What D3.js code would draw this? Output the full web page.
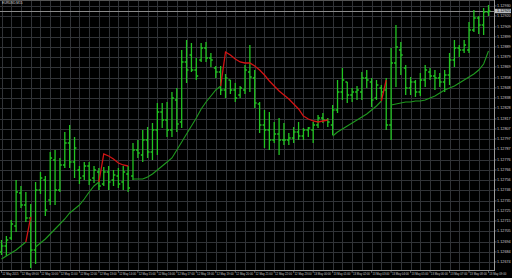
<!DOCTYPE html>
<html><head><meta charset="utf-8">
<script src="https://cdn.jsdelivr.net/npm/d3@7"></script>
<style>html,body{margin:0;padding:0;background:#000;overflow:hidden}</style>
</head><body>
<svg id="c" width="512" height="278"></svg>
<script>
const symbolTitle = "EURUSD,M15";
const openP = [1.12684,1.12690,1.12698,1.12710,1.12743,1.12731,1.12718,1.12686,1.12746,1.12756,
1.12736,1.12776,1.12746,1.12771,1.12793,1.12774,1.12766,1.12760,1.12770,1.12758,
1.12764,1.12752,1.12764,1.12756,1.12760,1.12754,1.12762,1.12760,1.12786,1.12781,
1.12796,1.12784,1.12806,1.12824,1.12816,1.12806,1.12836,1.12814,1.12874,1.12881,
1.12866,1.12876,1.12888,1.12878,1.12868,1.12864,1.12846,1.12856,1.12846,1.12841,
1.12846,1.12864,1.12858,1.12832,1.12811,1.12806,1.12796,1.12802,1.12796,1.12796,
1.12798,1.12804,1.12800,1.12806,1.12806,1.12811,1.12818,1.12816,1.12811,1.12826,
1.12844,1.12854,1.12841,1.12844,1.12844,1.12858,1.12854,1.12838,1.12848,1.12846,
1.12811,1.12873,1.12886,1.12868,1.12848,1.12854,1.12844,1.12856,1.12864,1.12860,
1.12858,1.12854,1.12861,1.12876,1.12888,1.12886,1.12886,1.12906,1.12918,1.12911,
1.12924];
const highP = [1.12696,1.12700,1.12716,1.12756,1.12750,1.12744,1.12732,1.12754,1.12764,1.12760,
1.12784,1.12786,1.12778,1.12804,1.12811,1.12799,1.12770,1.12774,1.12774,1.12770,
1.12768,1.12769,1.12770,1.12766,1.12768,1.12770,1.12770,1.12793,1.12796,1.12806,
1.12809,1.12813,1.12833,1.12833,1.12834,1.12844,1.12848,1.12886,1.12896,1.12893,
1.12878,1.12893,1.12894,1.12883,1.12870,1.12870,1.12862,1.12856,1.12853,1.12850,
1.12871,1.12891,1.12866,1.12834,1.12826,1.12824,1.12814,1.12818,1.12813,1.12803,
1.12809,1.12814,1.12808,1.12809,1.12814,1.12821,1.12823,1.12818,1.12831,1.12856,
1.12868,1.12854,1.12848,1.12850,1.12864,1.12866,1.12858,1.12856,1.12851,1.12858,
1.12888,1.12911,1.12894,1.12871,1.12859,1.12856,1.12863,1.12871,1.12868,1.12866,
1.12863,1.12866,1.12883,1.12896,1.12891,1.12896,1.12914,1.12926,1.12920,1.12928,
1.12931];
const lowP = [1.12681,1.12680,1.12696,1.12704,1.12728,1.12714,1.12668,1.12672,1.12742,1.12720,
1.12731,1.12731,1.12744,1.12768,1.12768,1.12758,1.12752,1.12756,1.12751,1.12753,
1.12746,1.12750,1.12746,1.12750,1.12748,1.12746,1.12744,1.12756,1.12778,1.12774,
1.12778,1.12776,1.12781,1.12808,1.12799,1.12799,1.12804,1.12808,1.12853,1.12864,
1.12856,1.12874,1.12874,1.12869,1.12858,1.12841,1.12838,1.12842,1.12834,1.12838,
1.12842,1.12844,1.12828,1.12803,1.12788,1.12786,1.12793,1.12781,1.12791,1.12791,
1.12793,1.12796,1.12796,1.12799,1.12793,1.12808,1.12813,1.12809,1.12801,1.12823,
1.12836,1.12833,1.12834,1.12836,1.12836,1.12848,1.12829,1.12836,1.12836,1.12806,
1.12796,1.12849,1.12861,1.12841,1.12841,1.12839,1.12840,1.12849,1.12856,1.12846,
1.12849,1.12844,1.12851,1.12869,1.12879,1.12883,1.12883,1.12904,1.12902,1.12901,
1.12920];
const closeP = [1.12690,1.12696,1.12712,1.12744,1.12731,1.12718,1.12686,1.12746,1.12758,1.12726,
1.12778,1.12746,1.12771,1.12793,1.12774,1.12788,1.12758,1.12770,1.12756,1.12766,
1.12750,1.12764,1.12754,1.12761,1.12752,1.12764,1.12748,1.12786,1.12783,1.12796,
1.12784,1.12806,1.12824,1.12816,1.12806,1.12838,1.12812,1.12874,1.12866,1.12866,
1.12860,1.12888,1.12878,1.12876,1.12864,1.12846,1.12858,1.12846,1.12838,1.12848,
1.12866,1.12859,1.12833,1.12811,1.12806,1.12796,1.12802,1.12796,1.12796,1.12798,
1.12804,1.12800,1.12806,1.12808,1.12811,1.12818,1.12816,1.12814,1.12826,1.12844,
1.12856,1.12841,1.12844,1.12846,1.12858,1.12856,1.12836,1.12851,1.12844,1.12811,
1.12873,1.12889,1.12881,1.12848,1.12854,1.12844,1.12856,1.12866,1.12860,1.12858,
1.12854,1.12861,1.12876,1.12888,1.12886,1.12891,1.12906,1.12918,1.12911,1.12924,
1.12925];
const trailP = [1.12677,1.12680,1.12683,1.12686,1.12690,1.12694,1.12719,1.12689,1.12693,1.12697,
1.12702,1.12707,1.12712,1.12717,1.12723,1.12727,1.12731,1.12737,1.12744,1.12750,
1.12754,1.12782,1.12780,1.12777,1.12773,1.12771,1.12770,1.12757,1.12757,1.12757,
1.12759,1.12762,1.12766,1.12770,1.12774,1.12778,1.12786,1.12794,1.12802,1.12810,
1.12818,1.12827,1.12834,1.12840,1.12846,1.12850,1.12884,1.12881,1.12877,1.12874,
1.12873,1.12873,1.12870,1.12866,1.12861,1.12855,1.12850,1.12845,1.12841,1.12837,
1.12832,1.12827,1.12820,1.12817,1.12815,1.12814,1.12815,1.12816,1.12800,1.12804,
1.12807,1.12810,1.12813,1.12816,1.12819,1.12822,1.12826,1.12830,1.12835,1.12856,
1.12831,1.12832,1.12833,1.12834,1.12834,1.12835,1.12835,1.12836,1.12838,1.12840,
1.12843,1.12846,1.12848,1.12850,1.12853,1.12856,1.12859,1.12862,1.12866,1.12872,
1.12885];
const trendDir = ("uuuuuu" + "d" + "uuuuuuuuuuuuuu" + "dddddd" + "uuuuuuuuuuuuuuuuuuu" +
  "dddddddddddddddddddddd" + "uuuuuuuuuuu" + "d" + "uuuuuuuuuuuuuuuuuuuuu").split("");
const priceTicks = [1.12930,1.12920,1.12909,1.12899,1.12889,1.12879,1.12869,1.12858,1.12848,1.12838,
1.12828,1.12817,1.12807,1.12797,1.12787,1.12776,1.12766,1.12756,1.12746,1.12735,
1.12725,1.12715,1.12705,1.12694,1.12684,1.12674];
const timeLabels = ["12 May 2015","12 May 09:00","12 May 10:00","12 May 11:00","12 May 12:00","12 May 13:00",
"12 May 14:00","12 May 15:00","12 May 16:00","12 May 17:00","12 May 18:00","12 May 19:00","12 May 20:00",
"12 May 21:00","12 May 22:00","12 May 23:00","13 May 00:00","13 May 01:00","13 May 02:00","13 May 03:00",
"13 May 04:00","13 May 05:00","13 May 06:00","13 May 07:00","13 May 08:00","13 May 09:00"];

const W = 494, H = 270;
const n = closeP.length;
const idx = d3.range(n);
const x = d3.scaleLinear().domain([0, n - 1]).range([1.5, 488.5]);
const y = d3.scaleLinear().domain([1.12936, 1.12666]).range([0, 270]);
const svg = d3.select("#c");
svg.append("rect").attr("width", 512).attr("height", 278).attr("fill", "#000");

// grid
const g = svg.append("g").attr("shape-rendering", "crispEdges");
g.selectAll(".hg").data(priceTicks).join("line")
  .attr("x1", 0).attr("x2", W).attr("y1", d => Math.round(y(d)) + 0.5).attr("y2", d => Math.round(y(d)) + 0.5)
  .attr("stroke", "#313337").attr("stroke-width", 1);
g.selectAll(".vg").data(idx.filter(i => i % 2 === 0)).join("line")
  .attr("y1", 0).attr("y2", H).attr("x1", i => Math.round(x(i)) + 0.5).attr("x2", i => Math.round(x(i)) + 0.5)
  .attr("stroke", "#313337").attr("stroke-width", 1);

// bid line
const bidY = Math.round(y(closeP[n - 1])) + 0.5;
svg.append("line").attr("x1", 0).attr("x2", W).attr("y1", bidY).attr("y2", bidY)
  .attr("stroke", "#8a8a8a").attr("stroke-width", 1).attr("shape-rendering", "crispEdges");

// bars
const barCol = "#22c322";
const bars = svg.append("g").attr("stroke", barCol).attr("fill", "none");
bars.selectAll("path").data(idx).join("path")
  .attr("stroke-width", 1.3)
  .attr("d", i => {
    const cx = x(i);
    return `M${cx},${y(highP[i])}V${y(lowP[i])}` +
      `M${cx - 1.9},${y(openP[i])}H${cx}` +
      `M${cx},${y(closeP[i])}H${cx + 1.9}`;
  });

// trailing line
const lineGen = d3.line().x(i => x(i)).y(i => y(trailP[i]));
svg.append("path").datum(idx)
  .attr("d", lineGen.defined(i => trendDir[i] === "u"))
  .attr("fill", "none").attr("stroke", "#1f9a1f").attr("stroke-width", 1.1);
const lineR = d3.line().x(i => x(i)).y(i => y(trailP[i]))
  .defined(i => trendDir[i] === "d" || (i + 1 < n && trendDir[i + 1] === "d"));
svg.append("path").datum(idx)
  .attr("d", lineR)
  .attr("fill", "none").attr("stroke", "#d21414").attr("stroke-width", 1.3);

// frame
const fr = svg.append("g").attr("stroke", "#9a9a9a").attr("shape-rendering", "crispEdges");
fr.append("line").attr("x1", W + 0.5).attr("x2", W + 0.5).attr("y1", 0).attr("y2", H + 1);
fr.append("line").attr("x1", 0).attr("x2", W + 1).attr("y1", H + 0.5).attr("y2", H + 0.5);
fr.append("line").attr("x1", 0).attr("x2", W).attr("y1", 0.5).attr("y2", 0.5).attr("stroke", "#555");

// right axis labels
const fmt = d3.format(".5f");
const ax = svg.append("g");
ax.selectAll("line").data(priceTicks).join("line")
  .attr("x1", W + 1).attr("x2", W + 2.5).attr("y1", d => y(d)).attr("y2", d => y(d))
  .attr("stroke", "#9a9a9a").attr("stroke-width", 0.6);
ax.selectAll("text").data(priceTicks).join("text")
  .attr("x", W + 3).attr("y", d => y(d) + 1.3)
  .attr("font-family", "Liberation Sans, Arial, sans-serif").attr("font-size", 3.8)
  .attr("fill", "#c8c8c8").text(d => fmt(d));

// current price box
svg.append("rect").attr("x", W + 1).attr("y", y(closeP[n - 1]) - 2.2).attr("width", 16).attr("height", 4.4)
  .attr("fill", "#b9bcc0");
svg.append("text").attr("x", W + 3).attr("y", y(closeP[n - 1]) + 1.3)
  .attr("font-family", "Liberation Sans, Arial, sans-serif").attr("font-size", 3.8)
  .attr("fill", "#000").text(fmt(closeP[n - 1]));

// time labels
const tIdx = idx.filter(i => i % 4 === 0);
const tx = svg.append("g");
tx.selectAll("line").data(tIdx).join("line")
  .attr("x1", i => x(i)).attr("x2", i => x(i)).attr("y1", H + 1).attr("y2", H + 3)
  .attr("stroke", "#9a9a9a").attr("stroke-width", 0.6);
tx.selectAll("text").data(tIdx).join("text")
  .attr("x", i => x(i) + 0.8).attr("y", H + 5.2)
  .attr("font-family", "Liberation Sans, Arial, sans-serif").attr("font-size", 2.8)
  .attr("fill", "#c8c8c8").text((i, k) => timeLabels[k]);

// title
svg.append("text").attr("x", 2).attr("y", 4.2)
  .attr("font-family", "Liberation Sans, Arial, sans-serif").attr("font-size", 3.2)
  .attr("fill", "#dddddd").text(symbolTitle);
</script>
</body></html>
